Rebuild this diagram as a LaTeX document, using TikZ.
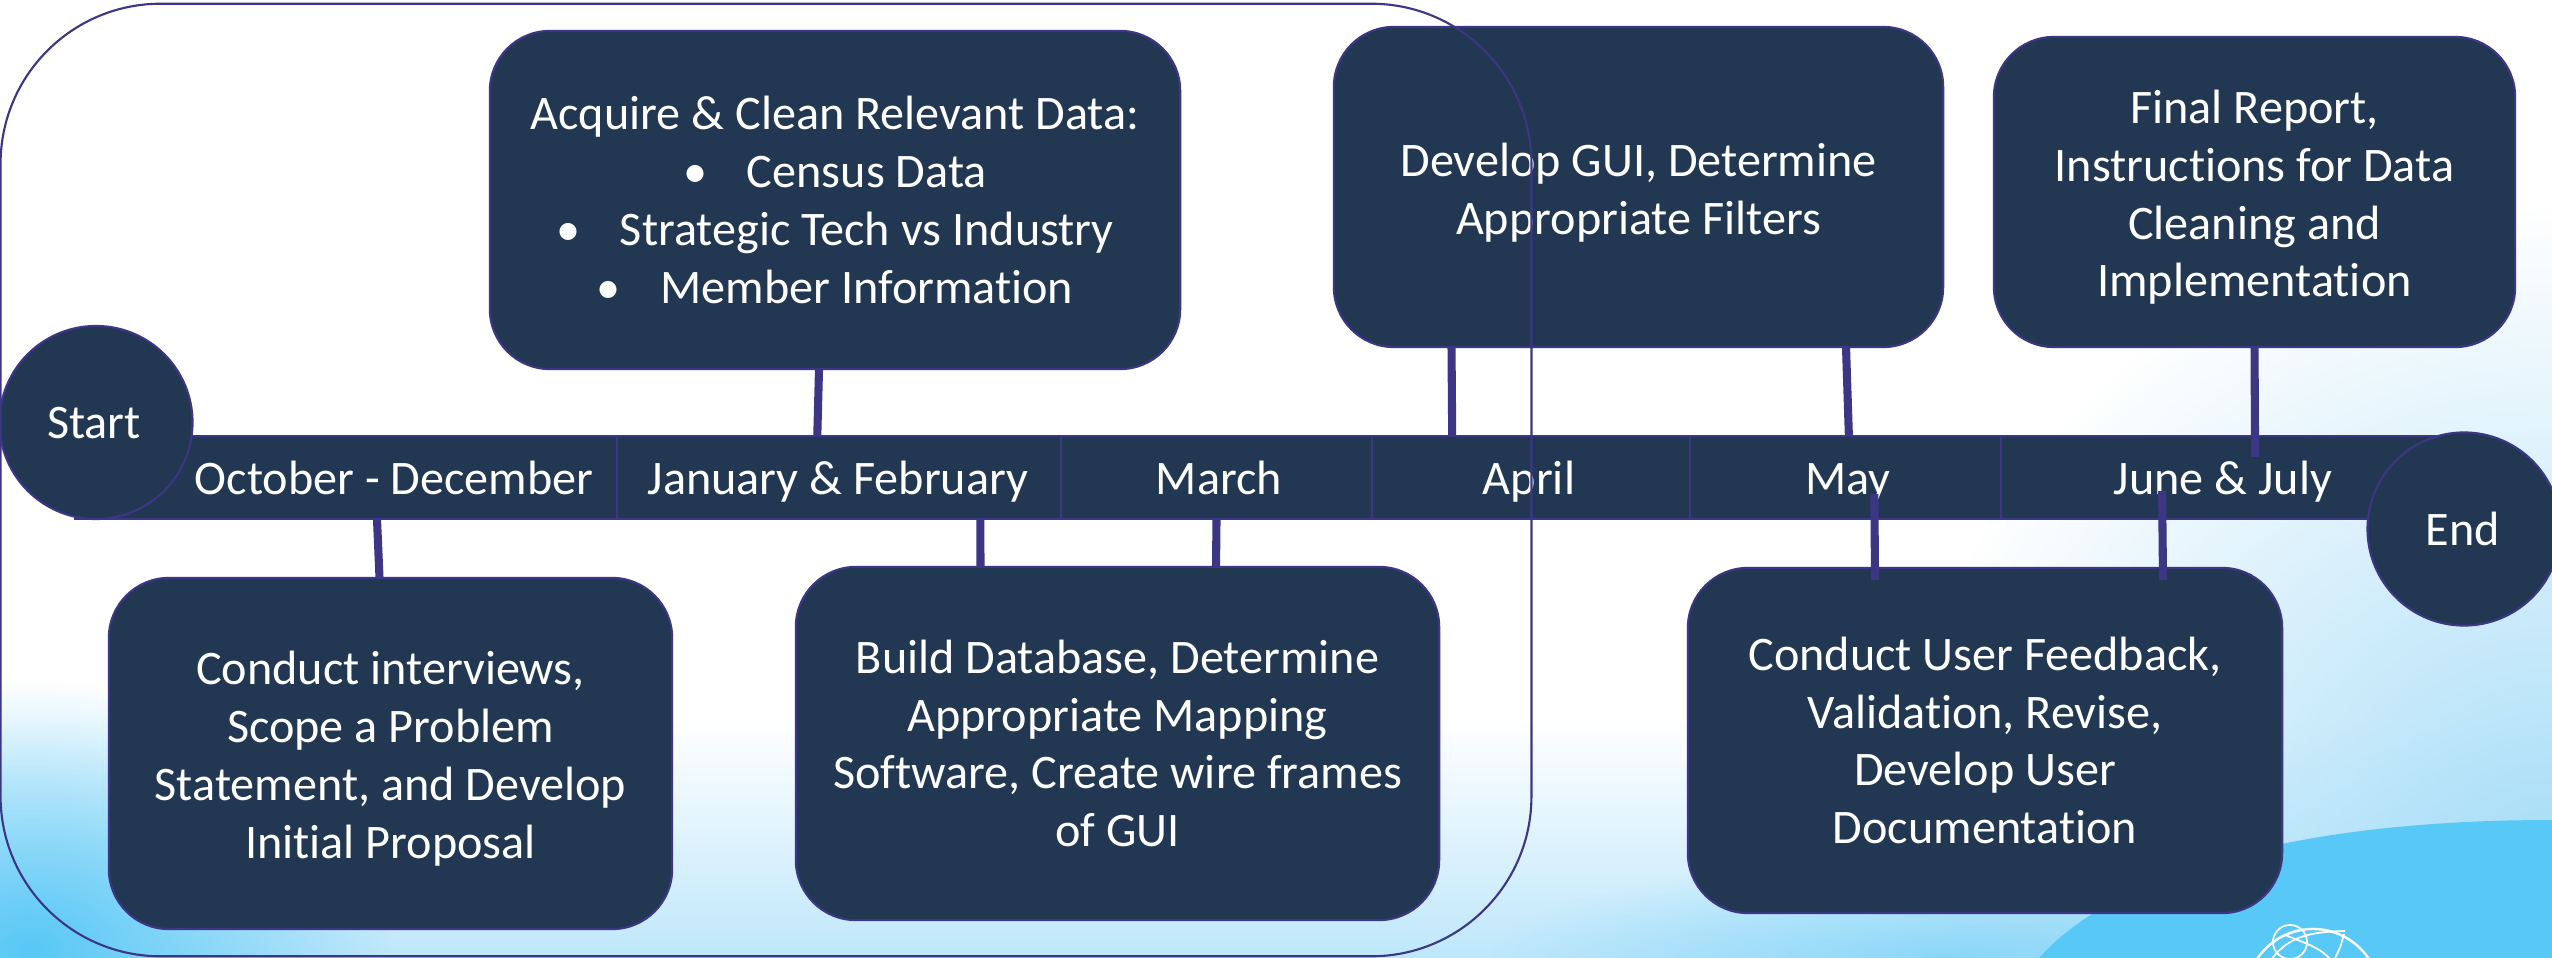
\documentclass[tikz,border=0pt]{standalone}
\usepackage{fontspec}
\usepackage{tikz}
\usetikzlibrary{positioning,calc,fadings}
\setmainfont[Ligatures=NoCommon]{Carlito}

\definecolor{panelnavy}{HTML}{223852}
\definecolor{edgeviolet}{HTML}{3C3684}
\definecolor{skyblue}{HTML}{58C8F6}
\definecolor{paleblue}{HTML}{A8DEF8}
\definecolor{mistblue}{HTML}{BEE7FB}

\tikzfading[name=glowfade, inner color=transparent!0, outer color=transparent!100]

\tikzset{
    taskbox/.style={draw=edgeviolet, line width=0.6pt, fill=panelnavy, text=white, rounded corners=0.6cm,
        align=center, inner sep=0pt, outer sep=0pt, font=\fontsize{13.7}{16.45}\selectfont},
    monthcell/.style={draw=edgeviolet, line width=0.6pt, fill=panelnavy, minimum height=0.83cm, inner sep=0pt, outer sep=0pt},
    monthtext/.style={text=white, inner sep=0pt, anchor=base, font=\fontsize{13.7}{16.45}\selectfont},
    endcap/.style={circle, draw=edgeviolet, line width=0.6pt, fill=panelnavy, minimum size=1.93cm,
        inner sep=0pt, outer sep=0pt},
    stem/.style={draw=edgeviolet, line width=2.3pt},
    frameline/.style={draw=edgeviolet, line width=0.6pt, rounded corners=1.6cm, minimum width=15.3cm,
        minimum height=9.52cm, inner sep=0pt, outer sep=0pt}
}

\begin{document}
\begin{tikzpicture}[x=0.01cm,y=-0.01cm]
    \useasboundingbox (0,0) rectangle (2552,958);

    % backdrop
    \begin{scope}
        \clip (0,0) rectangle (2552,958);
        \fill[white] (0,0) rectangle (2552,958);
        \shade[top color=white, bottom color=mistblue] (0,720) rectangle (2552,958);
        \fill[skyblue, path fading=glowfade] (30,950) ellipse [x radius=3.6cm, y radius=2.7cm];
        \fill[paleblue, path fading=glowfade] (2552,870) circle [radius=6.6cm];
        \fill[skyblue, path fading=glowfade, opacity=0.5] (1950,958) ellipse [x radius=4.6cm, y radius=1.0cm];
        \fill[skyblue] (2039,958) .. controls (2090,900) and (2230,820) .. (2552,820) -- (2552,958) -- cycle;
        % globe
        \draw[white, line width=0.7pt] (2313,996) circle [radius=0.67cm];
        \draw[white, line width=0.5pt] (2290,942) circle [radius=0.17cm];
        \draw[white, line width=0.5pt] (2262,975) .. controls (2280,940) and (2300,932) .. (2345,931);
        \draw[white, line width=0.5pt] (2340,975) .. controls (2330,950) and (2310,945) .. (2285,935);
        \draw[white, line width=0.5pt] (2335,958) .. controls (2342,945) and (2342,940) .. (2344,934);
    \end{scope}

    % task boxes
    \node [taskbox, minimum width=6.9cm, minimum height=3.38cm] (acquire) at (835,200) {Acquire \& Clean Relevant Data:\\
        •\hspace{11.3pt}Census Data\\ •\hspace{11.3pt}Strategic Tech vs Industry\\ •\hspace{11.3pt}Member Information};
    \node [taskbox, minimum width=6.09cm, minimum height=3.2cm] (gui) at (1638.5,187) {\rule{0pt}{12.5pt}Develop GUI, Determine\\ Appropriate Filters};
    \node [taskbox, minimum width=5.21cm, minimum height=3.1cm] (report) at (2254.5,192) {\rule{0pt}{12.5pt}Final Report,\\ Instructions for Data\\ Cleaning and\\ Implementation};
    \node [taskbox, minimum width=5.63cm, minimum height=3.51cm] (interviews) at (390.5,753.5) {\rule{0pt}{12.5pt}Conduct interviews,\\ Scope a Problem\\ Statement, and Develop\\ Initial Proposal};
    \node [taskbox, minimum width=6.43cm, minimum height=3.53cm] (database) at (1117.5,743.5) {Build Database, Determine\\ Appropriate Mapping\\ Software, Create wire frames\\ of GUI};
    \node [taskbox, minimum width=5.94cm, minimum height=3.45cm] (feedback) at (1985,740.5) {Conduct User Feedback,\\ Validation, Revise,\\ Develop User\\ Documentation};

    % month bar
    \node [monthcell, minimum width=5.42cm] (octcell) at (346,477.5) {};
    \node [monthcell, minimum width=4.44cm, right=0pt of octcell] (jancell) {};
    \node [monthcell, minimum width=3.1cm, right=0pt of jancell] (marcell) {};
    \node [monthcell, minimum width=3.18cm, right=0pt of marcell] (aprcell) {};
    \node [monthcell, minimum width=3.11cm, right=0pt of aprcell] (maycell) {};
    \node [monthcell, minimum width=4.45cm, right=0pt of maycell] (juncell) {};

    \node [monthtext] (octtext) at (394,494) {October - December};
    \node [monthtext] (jantext) at (838,494) {January \& February};
    \node [monthtext] (martext) at (1219,494) {March};
    \node [monthtext] (aprtext) at (1529,494) {April};
    \node [monthtext] (maytext) at (1848,494) {May};
    \node [monthtext] (juntext) at (2223,494) {June \& July};

    % stems
    \draw[stem] ($(acquire.south)+(-16,0)$) -- ($(jancell.north)+(-22,0)$);
    \draw[stem] ($(gui.south)+(-187,0)$) -- ($(aprcell.north)+(-78.5,0)$);
    \draw[stem] ($(gui.south)+(207.5,0)$) -- ($(maycell.north)+(3.5,0)$);
    \draw[stem] (report.south) -- ($(juncell.north)+(31.5,21)$);
    \draw[stem] ($(interviews.north)+(-11,0)$) -- ($(octcell.south)+(31,0)$);
    \draw[stem] ($(database.north)+(-137,0)$) -- ($(jancell.south)+(141,0)$);
    \draw[stem] ($(database.north)+(98.5,0)$) -- (marcell.south);
    \draw[stem] ($(feedback.north)+(-110,12)$) -- ($(maycell.south)+(29,-25)$);
    \draw[stem] ($(feedback.north)+(178,12)$) -- ($(juncell.south)+(-61.5,-28)$);

    \node [endcap] (start) at (96,422.5) {};
    \node [monthtext] (starttext) at (94,439) {Start};
    \node [endcap] (finish) at (2464,529) {};
    \node [monthtext] (finishtext) at (2463,545) {End};

    \node [frameline] (phaseframe) at (766,480) {};
\end{tikzpicture}
\end{document}
